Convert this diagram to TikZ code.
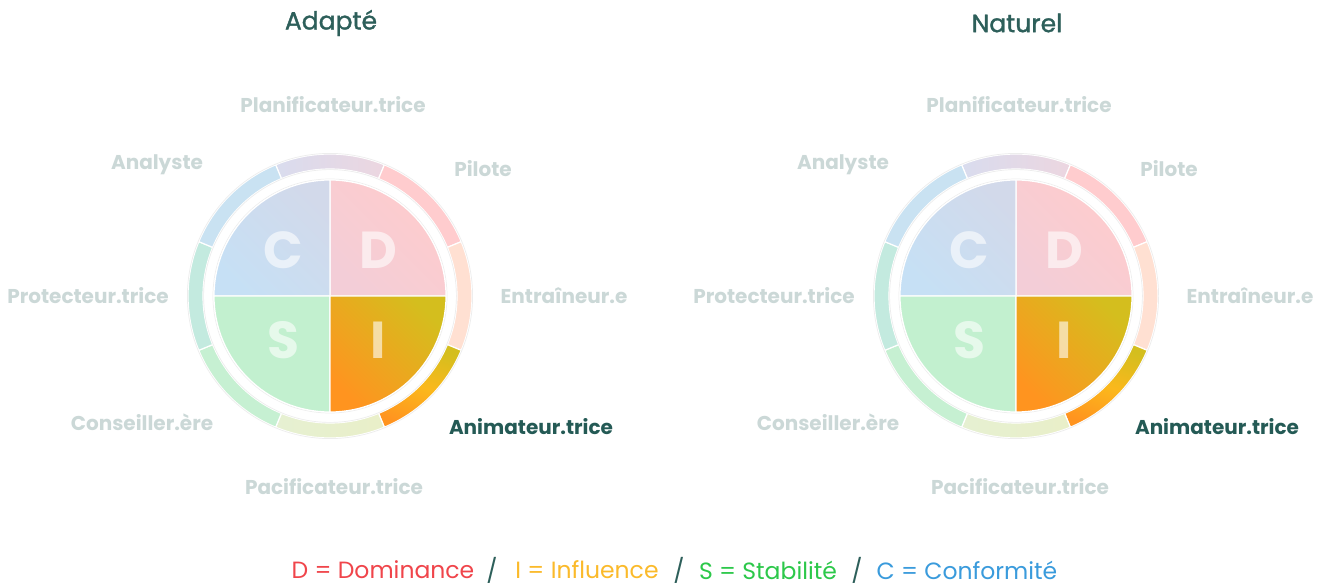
\documentclass[tikz,border=0pt]{standalone}
\usepackage{fontspec}
\setmainfont{Poppins}
\newfontfamily\semib{Poppins}[FakeBold=1.3]
\definecolor{lbl}{HTML}{CBD8D7}
\definecolor{dark}{HTML}{245A55}
\definecolor{ttl}{HTML}{2D5F5A}
\definecolor{planL}{HTML}{D9DCEE}
\definecolor{planR}{HTML}{ECD6E0}
\definecolor{pil}{HTML}{FFCCCE}
\definecolor{ent}{HTML}{FFE0D2}
\definecolor{anT}{HTML}{D4BE1E}
\definecolor{anM}{HTML}{FBB81C}
\definecolor{anB}{HTML}{FF941F}
\definecolor{pacL}{HTML}{E6F0D2}
\definecolor{pacR}{HTML}{E9EFC8}
\definecolor{cons}{HTML}{C6F0D2}
\definecolor{prot}{HTML}{C3EADF}
\definecolor{anal}{HTML}{C9E2F2}
\definecolor{qD}{HTML}{FFCCCC}
\definecolor{qDb}{HTML}{F3CDD7}
\definecolor{qC}{HTML}{C6E0F5}
\definecolor{qCb}{HTML}{D2D9EA}
\definecolor{qS}{HTML}{C2F0CF}
\definecolor{lgD}{HTML}{F0454B}
\definecolor{lgI}{HTML}{FBBA2A}
\definecolor{lgS}{HTML}{2CC84A}
\definecolor{lgC}{HTML}{3A9BDC}
\newcommand\segp[2]{(#1:142pt) arc[start angle=#1, end angle=#2, radius=142pt] -- (#2:127pt) arc[start angle=#2, end angle=#1, radius=127pt] -- cycle}
\newcommand\quadp[2]{(0,0) -- (#1:116pt) arc[start angle=#1, end angle=#2, radius=116pt] -- cycle}
\tikzset{
  seg/.style={draw=white, line width=1.2pt},
  lab/.style={font=\bfseries\fontsize{20}{20}\selectfont, text=lbl, inner sep=0pt},
  hl/.style={font=\bfseries\fontsize{20}{20}\selectfont, text=dark, inner sep=0pt},
  letter/.style={font=\bfseries\fontsize{52}{52}\selectfont, text=white, text opacity=0.6, inner sep=0pt},
  ttlstyle/.style={font=\semib\fontsize{25}{26}\selectfont, text=ttl, inner sep=0pt},
  lgstyle/.style={font=\fontsize{23.5}{24}\selectfont, inner sep=0pt},
  rim/.style={draw=black!7, line width=0.7pt},
  disc/.pic={
    % outer ring segments
    \shadedraw[seg, left color=planL, right color=planR] \segp{67.5}{112.5};
    \filldraw[seg, fill=pil] \segp{22.5}{67.5};
    \filldraw[seg, fill=ent] \segp{-22.5}{22.5};
    \shadedraw[seg, top color=anT, bottom color=anB, middle color=anM, shading angle=-20] \segp{-67.5}{-22.5};
    \shadedraw[seg, left color=pacL, right color=pacR] \segp{-112.5}{-67.5};
    \filldraw[seg, fill=cons] \segp{-157.5}{-112.5};
    \filldraw[seg, fill=prot] \segp{157.5}{202.5};
    \filldraw[seg, fill=anal] \segp{112.5}{157.5};
    \draw[rim] (0,0) circle (142.6pt);
    \draw[rim] (0,0) circle (126.4pt);
    \draw[rim] (0,0) circle (117pt);
    % quadrants
    \shadedraw[seg, top color=qD, bottom color=qDb, shading angle=-45] \quadp{90}{0};
    \shadedraw[seg, top color=qCb, bottom color=qC, shading angle=-45] \quadp{180}{90};
    \filldraw[seg, fill=qS] \quadp{270}{180};
    \shadedraw[seg, top color=anT, middle color=anM, bottom color=anB, shading angle=-45] \quadp{360}{270};
    % letters
    \node[letter] (lc) at (-47,46) {C};
    \node[letter] (ld) at (48,46) {D};
    \node[letter] (ls) at (-47,-44) {S};
    \node[letter] (li) at (48,-44) {I};
    % labels
    \node[lab] (plan) at (3,191) {Planificateur.trice};
    \node[lab] (ana) at (-173,131) {Analyste};
    \node[lab] (pil) at (153,127) {Pilote};
    \node[lab] (pro) at (-242,0) {Protecteur.trice};
    \node[lab] (ent) at (234,0) {Entraîneur.e};
    \node[lab] (con) at (-188,-126) {Conseiller.ère};
    \node[hl] (ani) at (201,-131) {Animateur.trice};
    \node[lab] (pac) at (4,-191) {Pacificateur.trice};
  }
}
\begin{document}
\begin{tikzpicture}[x=1pt,y=1pt]
\useasboundingbox (0,0) rectangle (1325,587);
\fill[white] (0,0) rectangle (1325,587);
\pic (A) at (330,291) {disc};
\pic (N) at (1016,291) {disc};
\node[ttlstyle] (tA) at (331,564) {Adapté};
\node[ttlstyle] (tN) at (1017,564) {Naturel};
\node[lgstyle, text=lgD] (gD) at (383,17) {D = Dominance};
\node[lgstyle, text=ttl] (s1) at (492,17) {/};
\node[lgstyle, text=lgI] (gI) at (587,17) {I = Influence};
\node[lgstyle, text=ttl] (s2) at (679,17) {/};
\node[lgstyle, text=lgS] (gS) at (768,17) {S = Stabilité};
\node[lgstyle, text=ttl] (s3) at (857,17) {/};
\node[lgstyle, text=lgC] (gC) at (967,17) {C = Conformité};
\end{tikzpicture}
\end{document}
